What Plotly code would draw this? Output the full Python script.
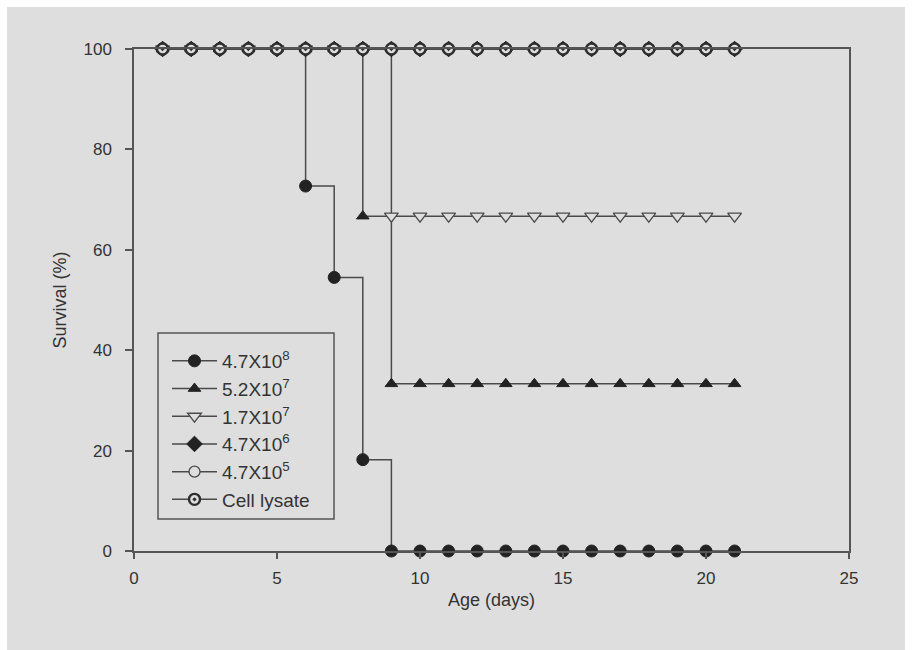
import plotly.graph_objects as go

days = list(range(1, 22))
s_47e8 = [100, 100, 100, 100, 100, 72.7, 54.5, 18.2] + [0] * 13
s_52e7 = [100] * 7 + [66.7] + [33.3] * 13
s_17e7 = [100] * 8 + [66.7] * 13
s_47e6 = [100] * 21
s_47e5 = [100] * 21
s_lysate = [100] * 21

names = ["4.7X10<sup>8</sup>", "5.2X10<sup>7</sup>", "1.7X10<sup>7</sup>",
         "4.7X10<sup>6</sup>", "4.7X10<sup>5</sup>", "Cell lysate"]
x_ticks = [0, 5, 10, 15, 20, 25]
y_ticks = [0, 20, 40, 60, 80, 100]

LINE = "#4a4a4a"
MK = "#222222"
BG = "#dedede"

series = [
    (s_47e8, dict(symbol="circle", size=12, color=MK, line=dict(color=MK, width=1))),
    (s_52e7, dict(symbol="triangle-up", size=11, color=MK, line=dict(color=MK, width=1))),
    (s_17e7, dict(symbol="triangle-down", size=12, color=BG, line=dict(color=LINE, width=1.3))),
    (s_47e6, dict(symbol="diamond", size=12, color=MK, line=dict(color=MK, width=1))),
    (s_47e5, dict(symbol="circle", size=11, color=BG, line=dict(color=LINE, width=1.3))),
    (s_lysate, dict(symbol="circle-dot", size=11, color=BG, line=dict(color="#2e2e2e", width=2.4))),
]

fig = go.Figure()
for (vals, mk), nm in zip(series, names):
    fig.add_trace(go.Scatter(
        x=days, y=vals, name=nm, mode="lines+markers",
        line=dict(color=LINE, width=1.5, shape="hv"),
        marker=mk, cliponaxis=False,
    ))

W, H = 912, 650
L, R, T, B = 134, 63, 49, 99
pw, ph = W - L - R, H - T - B


def px(xp):
    return (xp - L) / pw


def py(yp):
    return (H - B - yp) / ph


fig.add_shape(type="rect", xref="paper", yref="paper", layer="below",
              x0=px(7), x1=px(905), y0=py(650), y1=py(7),
              fillcolor=BG, line=dict(width=0))
# legend frame
fig.add_shape(type="rect", xref="paper", yref="paper", layer="above",
              x0=px(158), x1=px(334), y0=py(519), y1=py(333),
              fillcolor="rgba(0,0,0,0)", line=dict(color="#555555", width=1.5))

FAM = "Liberation Sans, Arial, sans-serif"
tickfont = dict(family=FAM, size=17, color="#333333")
titlefont = dict(family=FAM, size=18, color="#333333")

fig.update_layout(
    width=W, height=H,
    margin=dict(l=L, r=R, t=T, b=B),
    paper_bgcolor="white", plot_bgcolor="rgba(0,0,0,0)",
    font=dict(family=FAM, size=17, color="#333333"),
    showlegend=True,
    legend=dict(
        x=px(167), y=py(342), xanchor="left", yanchor="top",
        bgcolor="rgba(0,0,0,0)", borderwidth=0,
        font=dict(family=FAM, size=19, color="#333333"),
        traceorder="normal", itemwidth=45, tracegroupgap=0,
    ),
    xaxis=dict(
        range=[0, 25], tickvals=x_ticks, ticktext=[str(v) for v in x_ticks],
        showgrid=False, zeroline=False, showline=True, mirror=True,
        linecolor="#555555", linewidth=1.5, ticks="outside", ticklen=6,
        tickcolor="#555555", tickwidth=1.5, ticklabelstandoff=5,
        title=dict(text="Age (days)", standoff=6, font=titlefont), tickfont=tickfont,
    ),
    yaxis=dict(
        range=[0, 100], tickvals=y_ticks, ticktext=[str(v) for v in y_ticks],
        showgrid=False, zeroline=False, showline=True, mirror=True,
        linecolor="#555555", linewidth=1.5, ticks="outside", ticklen=7,
        tickcolor="#555555", tickwidth=1.5, ticklabelstandoff=10,
        title=dict(text="Survival (%)", standoff=12, font=titlefont), tickfont=tickfont,
    ),
)

fig.write_html("out.html")
